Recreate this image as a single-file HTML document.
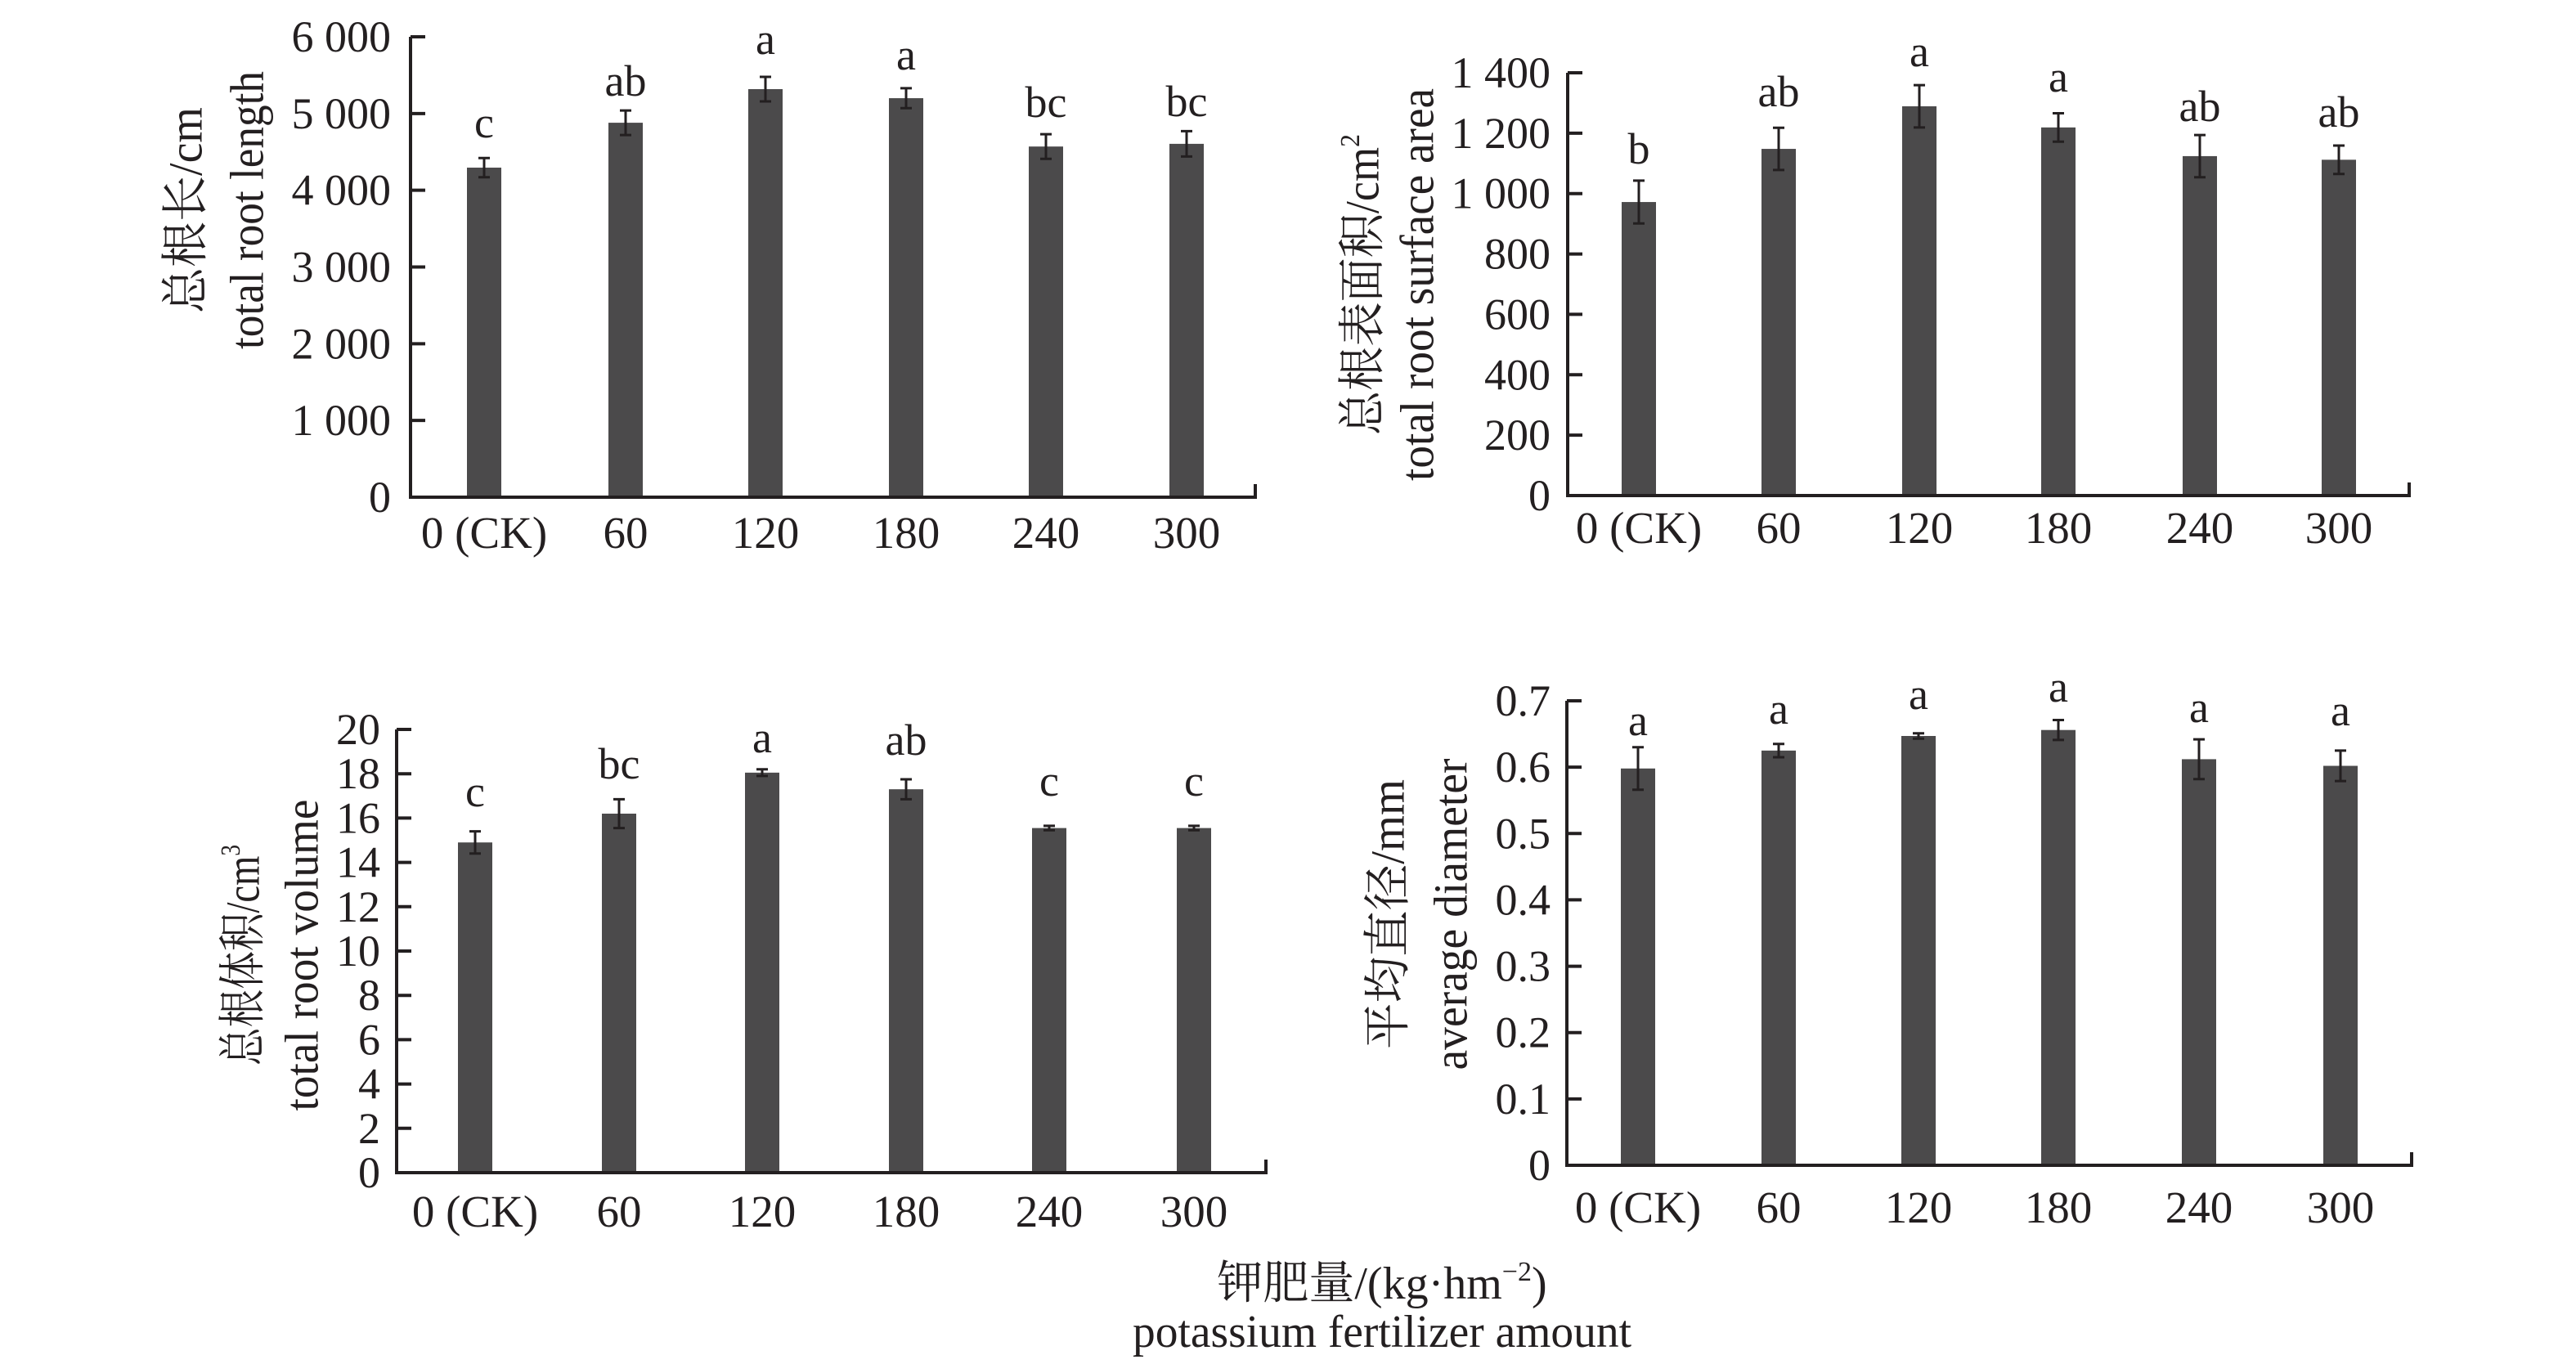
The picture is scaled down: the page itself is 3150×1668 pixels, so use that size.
<!DOCTYPE html>
<html><head><meta charset="utf-8">
<style>html,body{margin:0;padding:0;background:#fff;}svg{display:block;}</style>
</head><body>
<svg id="s" width="3150" height="1668" viewBox="0 0 3150 1668" xmlns="http://www.w3.org/2000/svg" font-family="Liberation Serif, Noto Serif CJK SC, serif" fill="#231f20">
<text x="1690" y="1588" font-size="56" text-anchor="middle">钾肥量/(kg·hm<tspan font-size="34" dy="-22">−2</tspan><tspan dy="22">)</tspan></text>
<text x="1690" y="1647" font-size="56" text-anchor="middle" textLength="610" lengthAdjust="spacingAndGlyphs">potassium fertilizer amount</text>
</svg>
<script>
const NS="http://www.w3.org/2000/svg";const s=document.getElementById('s');
function el(t,a,txt){const e=document.createElementNS(NS,t);for(const k in a)e.setAttribute(k,a[k]);if(txt!==undefined)e.textContent=txt;s.appendChild(e);return e;}
const cats=["0 (CK)","60","120","180","240","300"];
function chart(c){
 const {x0,x1,yTop,yBot,max,ticks,labels,centers,vals,errs,letters,lb,catY,tickRight,yl}=c;
 const sc=(yBot-yTop)/max;
 for(let i=0;i<6;i++){
  const cx=centers[i],top=yBot-vals[i]*sc;
  el('rect',{x:cx-21,y:top,width:42,height:yBot-top,fill:'#4b4a4b'});
  const e=errs[i]*sc;
  el('path',{d:`M${cx} ${top-e}V${top+e}M${cx-7} ${top-e}H${cx+7}M${cx-7} ${top+e}H${cx+7}`,stroke:'#231f20','stroke-width':3,fill:'none'});
  el('text',{x:cx,y:lb[i],'font-size':54,'text-anchor':'middle'},letters[i]);
  el('text',{x:cx,y:catY,'font-size':55,'text-anchor':'middle'},cats[i]);
 }
 el('path',{d:`M${x0} ${yTop}V${yBot}H${x1}V${yBot-16}`,stroke:'#231f20','stroke-width':4,fill:'none'});
 for(let i=0;i<ticks;i++){
  const y=yBot-(yBot-yTop)*i/(ticks-1);
  el('path',{d:`M${x0} ${y}H${x0+18}`,stroke:'#231f20','stroke-width':4});
  el('text',{x:tickRight,y:y+18,'font-size':54,'text-anchor':'end'},labels[i]);
 }
 const [lx1,lx2,ly,t1,t2,sup,len1,len2]=yl;
 const e1=el('text',{x:lx1,y:ly,'font-size':58,'text-anchor':'middle',transform:`rotate(-90 ${lx1} ${ly})`,'dominant-baseline':'middle',textLength:len1,lengthAdjust:'spacingAndGlyphs'},t1);
 if(sup){const sp=document.createElementNS(NS,'tspan');sp.setAttribute('font-size','34');sp.setAttribute('dy','-18');sp.textContent=sup;e1.appendChild(sp);}
 el('text',{x:lx2,y:ly,'font-size':58,'text-anchor':'middle',transform:`rotate(-90 ${lx2} ${ly})`,'dominant-baseline':'middle',textLength:len2,lengthAdjust:'spacingAndGlyphs'},t2);
}
chart({x0:502,x1:1535,yTop:45,yBot:608,max:6000,ticks:7,labels:["0","1 000","2 000","3 000","4 000","5 000","6 000"],
 centers:[592,765,936,1108,1279,1451],vals:[4295,4880,5318,5200,4570,4605],errs:[125,160,160,130,160,165],
 letters:["c","ab","a","a","bc","bc"],lb:[168,117,66,85,143,142],catY:670,tickRight:478,yl:[233,308,257,"总根长/cm","total root length",null,252,340]});
chart({x0:1917,x1:2946,yTop:89,yBot:606,max:1400,ticks:8,labels:["0","200","400","600","800","1 000","1 200","1 400"],
 centers:[2004,2175,2347,2517,2690,2860],vals:[972,1148,1289,1219,1124,1112],errs:[71,70,70,47,70,47],
 letters:["b","ab","a","a","ab","ab"],lb:[200,130,81,112,148,155],catY:664,tickRight:1896,yl:[1672,1739,348,"总根表面积/cm","total root surface area","2",368,480]});
chart({x0:485,x1:1548,yTop:892,yBot:1434,max:20,ticks:11,labels:["0","2","4","6","8","10","12","14","16","18","20"],
 centers:[581,757,932,1108,1283,1460],vals:[14.9,16.2,18.05,17.3,15.55,15.55],errs:[0.5,0.65,0.15,0.45,0.1,0.1],
 letters:["c","bc","a","ab","c","c"],lb:[986,952,920,923,973,973],catY:1500,tickRight:465,yl:[303,375,1168,"总根体积/cm","total root volume","3",270,381]});
chart({x0:1916,x1:2949,yTop:857,yBot:1425,max:0.7,ticks:8,labels:["0","0.1","0.2","0.3","0.4","0.5","0.6","0.7"],
 centers:[2003,2175,2346,2517,2689,2862],vals:[0.598,0.625,0.647,0.656,0.612,0.602],errs:[0.032,0.01,0.004,0.015,0.03,0.023],
 letters:["a","a","a","a","a","a"],lb:[899,885,867,858,883,887],catY:1495,tickRight:1896,yl:[1703,1780,1118,"平均直径/mm","average diameter",null,330,381]});
</script>
</body></html>
